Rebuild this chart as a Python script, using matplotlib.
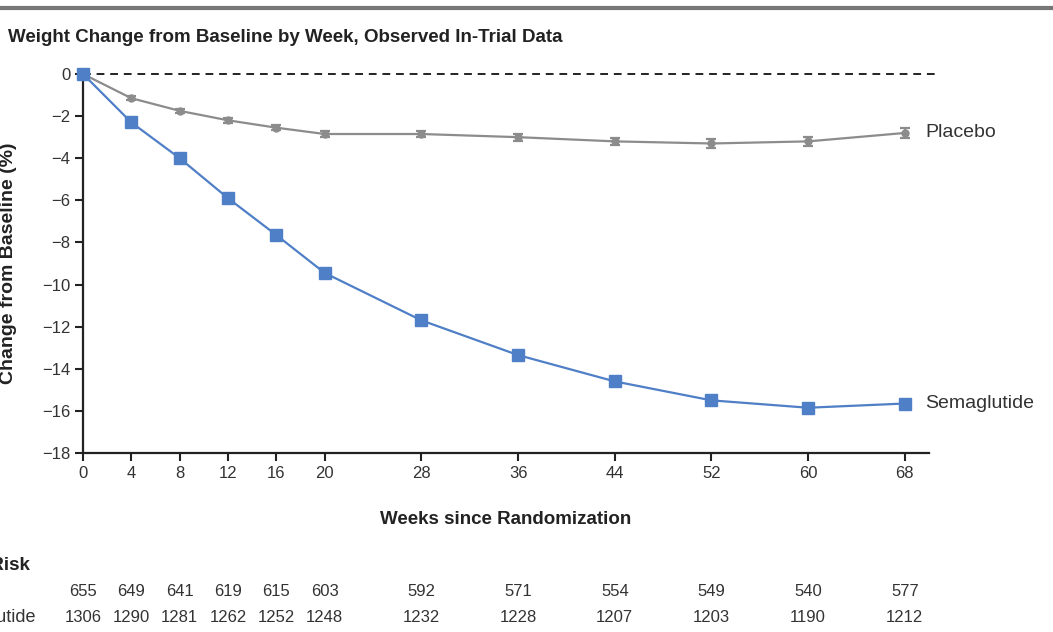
import matplotlib.pyplot as plt
from matplotlib import font_manager

names = {f.name for f in font_manager.fontManager.ttflist}
fam = 'Liberation Sans Narrow' if 'Liberation Sans Narrow' in names else 'Liberation Sans'
plt.rcParams['font.family'] = [fam, 'DejaVu Sans']

weeks = [0, 4, 8, 12, 16, 20, 28, 36, 44, 52, 60, 68]
placebo = [0, -1.15, -1.75, -2.2, -2.55, -2.85, -2.85, -3.0, -3.2, -3.3, -3.2, -2.8]
placebo_err = [0, 0.1, 0.1, 0.12, 0.12, 0.14, 0.15, 0.16, 0.18, 0.2, 0.2, 0.22]
sema = [0, -2.3, -4.0, -5.9, -7.65, -9.45, -11.7, -13.35, -14.6, -15.5, -15.85, -15.65]
sema_err = [0, 0.08, 0.08, 0.09, 0.1, 0.1, 0.11, 0.12, 0.13, 0.14, 0.15, 0.2]
risk_placebo = [655, 649, 641, 619, 615, 603, 592, 571, 554, 549, 540, 577]
risk_sema = [1306, 1290, 1281, 1262, 1252, 1248, 1232, 1228, 1207, 1203, 1190, 1212]

W, H = 1053, 632
fig = plt.figure(figsize=(W / 100, H / 100), dpi=100)
ax = fig.add_axes([83 / W, 1 - 453 / H, 846 / W, 379 / H])

grey = '#8c8c8c'
blue = '#4f7fc6'

ax.plot([0, 70.5], [0, 0], ls=(0, (4, 3)), color='#222222', lw=1.4, clip_on=False)
ax.errorbar(weeks, placebo, yerr=placebo_err, color=grey, lw=1.6, marker='o', ms=5,
            capsize=3.5, elinewidth=1.6, capthick=1.6, clip_on=False, zorder=3)
ax.errorbar(weeks, sema, yerr=sema_err, color=blue, lw=1.6, marker='s', ms=8,
            capsize=0, elinewidth=7, clip_on=False, zorder=4)

ax.set_xlim(0, 70)
ax.set_ylim(-18, 0)
ax.set_xticks(weeks)
ax.set_yticks(range(-18, 1, 2))
ax.set_yticklabels(['0' if v == 0 else '\u2212' + str(-v) for v in range(-18, 1, 2)])
for s in ['top', 'right']:
    ax.spines[s].set_visible(False)
for s in ['left', 'bottom']:
    ax.spines[s].set_linewidth(1.6)
    ax.spines[s].set_color('#222222')
ax.tick_params(length=6, width=1.5, color='#222222', labelsize=12, labelcolor='#333333', pad=3)

ax.text(69.7, placebo[-1], 'Placebo', fontsize=14, va='center', color='#333333')
ax.text(69.7, sema[-1], 'Semaglutide', fontsize=14, va='center', color='#333333')

ax.set_xlabel('Weeks since Randomization', fontsize=13.5, fontweight='bold', labelpad=22, color='#222222')
ax.set_ylabel('Change from Baseline (%)', fontsize=14, fontweight='bold', labelpad=8, color='#222222')
ax.yaxis.set_label_coords(-66 / 846, 0.5)

fig.text(8 / W, 1 - 38 / H, 'Weight Change from Baseline by Week, Observed In-Trial Data',
         fontsize=13.5, fontweight='bold', va='center', color='#222222')
fig.add_artist(plt.Line2D([0, 1], [1 - 8 / H, 1 - 8 / H], color='#777777', lw=3))

# the reference is cropped on the left, so the row labels run off the edge
tr = ax.get_xaxis_transform()
fig.text(30 / W, 1 - 565 / H, 'No. at Risk', fontsize=13.5, fontweight='bold', ha='right', va='center', color='#222222')
fig.text(-2 / W, 1 - 591 / H, 'Placebo', fontsize=13, ha='right', va='center', color='#333333')
fig.text(36 / W, 1 - 617 / H, 'Semaglutide', fontsize=13, ha='right', va='center', color='#333333')
for w, a, b in zip(weeks, risk_placebo, risk_sema):
    ax.text(w, -(591 - 453) / 379, str(a), transform=tr, ha='center', va='center', fontsize=12, color='#333333')
    ax.text(w, -(617 - 453) / 379, str(b), transform=tr, ha='center', va='center', fontsize=12, color='#333333')

fig.savefig('out.png', dpi=100)
